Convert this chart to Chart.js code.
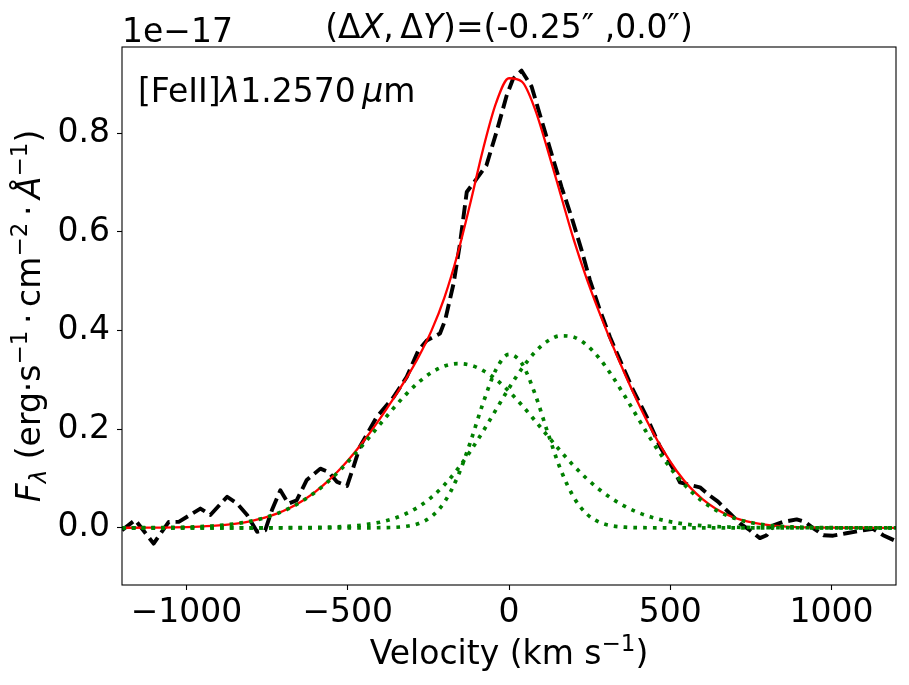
<!DOCTYPE html>
<html lang="en">
<head>
<meta charset="UTF-8">
<title>[FeII] 1.2570 um line profile</title>
<script src="https://cdn.jsdelivr.net/npm/chart.js@4/dist/chart.umd.min.js"></script>
<style>
  html, body { margin: 0; padding: 0; background: #fff; }
  #wrap { width: 909px; height: 685px; }
</style>
</head>
<body>
<div id="wrap"><canvas id="myChart" width="909" height="685"></canvas></div>
<script>
// observed spectrum (dashed black), flux in units of 1e-17
const dataVel = [-1200, -1159, -1102, -1055, -1024, -957, -926, -874, -843, -812,
  -781, -756, -735, -709, -684, -658, -627, -585, -559, -533,
  -502, -482, -462, -410, -358, -317, -281, -255, -214, -198,
  -172, -152, -131, -100, -70, -39, -7, 13, 39, 70,
  107, 138, 163, 194, 225, 251, 282, 313, 344, 385,
  427, 468, 509, 530, 560, 592, 623, 648, 685, 716,
  747, 778, 799, 820, 850, 892, 918, 944, 975, 1005,
  1046, 1098, 1129, 1160, 1200];
const dataFlux = [-0.005, 0.016, -0.032, 0.012, 0.012, 0.039, 0.026, 0.063, 0.049, 0.026,
  -0.008, -0.005, 0.036, 0.076, 0.049, 0.056, 0.097, 0.120, 0.113, 0.093,
  0.085, 0.124, 0.165, 0.225, 0.265, 0.306, 0.360, 0.380, 0.394, 0.421,
  0.495, 0.576, 0.681, 0.708, 0.735, 0.802, 0.877, 0.911, 0.927, 0.895,
  0.813, 0.745, 0.691, 0.630, 0.563, 0.502, 0.441, 0.387, 0.340, 0.279,
  0.225, 0.165, 0.120, 0.092, 0.087, 0.082, 0.065, 0.053, 0.029, 0.009,
  -0.005, -0.021, -0.015, 0.005, 0.012, 0.017, 0.012, -0.001, -0.015, -0.016,
  -0.011, -0.005, -0.002, -0.015, -0.027];

// fit: velocity grid for the model curves
const modelVel = [-1200, -1160, -1120, -1080, -1040, -1000, -960, -920, -880, -840,
  -800, -760, -720, -680, -640, -600, -560, -520, -480, -440,
  -400, -360, -320, -280, -240, -200, -160, -120, -80, -40,
  0, 40, 80, 120, 160, 200, 240, 280, 320, 360,
  400, 440, 480, 520, 560, 600, 640, 680, 720, 760,
  800, 840, 880, 920, 960, 1000, 1040, 1080, 1120, 1160, 1200];
// total fit (red)
const fitTotal = [0.0001, 0.0001, 0.0003, 0.0005, 0.0008, 0.0014, 0.0023, 0.0037, 0.0059, 0.0090,
  0.0136, 0.0200, 0.0287, 0.0402, 0.0549, 0.0732, 0.0955, 0.1217, 0.1517, 0.1851,
  0.2213, 0.2602, 0.3014, 0.3469, 0.4003, 0.4675, 0.5538, 0.6583, 0.7688, 0.8617,
  0.9116, 0.9046, 0.8500, 0.7660, 0.6760, 0.5860, 0.5070, 0.4370, 0.3720, 0.3110,
  0.2538, 0.2014, 0.1548, 0.1152, 0.0830, 0.0580, 0.0391, 0.0255, 0.0160, 0.0098,
  0.0058, 0.0033, 0.0018, 0.0010, 0.0005, 0.0002, 0.0001, 0.0001, 0, 0, 0];
// blue-shifted broad component (green dotted)
const comp1 = [0.0001, 0.0001, 0.0003, 0.0005, 0.0008, 0.0014, 0.0023, 0.0037, 0.0059, 0.0090,
  0.0136, 0.0200, 0.0286, 0.0400, 0.0546, 0.0726, 0.0943, 0.1195, 0.1478, 0.1783,
  0.2098, 0.2411, 0.2701, 0.2953, 0.3150, 0.3279, 0.3330, 0.3299, 0.3189, 0.3008,
  0.2768, 0.2486, 0.2178, 0.1862, 0.1553, 0.1263, 0.1003, 0.0777, 0.0587, 0.0433,
  0.0312, 0.0219, 0.0150, 0.0100, 0.0065, 0.0042, 0.0026, 0.0016, 0.0009, 0.0005,
  0.0003, 0.0002, 0.0001, 0.0001, 0, 0, 0, 0, 0, 0, 0];
// narrow central component
const comp2 = [0, 0, 0, 0, 0, 0, 0, 0, 0, 0,
  0, 0, 0, 0, 0, 0, 0, 0, 0, 0,
  0.0002, 0.0008, 0.0029, 0.0088, 0.0231, 0.0523, 0.1024, 0.1733, 0.2537, 0.3211,
  0.3516, 0.3330, 0.2727, 0.1932, 0.1184, 0.0628, 0.0288, 0.0114, 0.0039, 0.0012,
  0.0003, 0.0001, 0, 0, 0, 0, 0, 0, 0, 0,
  0, 0, 0, 0, 0, 0, 0, 0, 0, 0, 0];
// red-shifted component
const comp3 = [0, 0, 0, 0, 0, 0, 0, 0, 0, 0,
  0, 0, 0.0001, 0.0002, 0.0003, 0.0006, 0.0012, 0.0022, 0.0039, 0.0068,
  0.0113, 0.0183, 0.0284, 0.0428, 0.0622, 0.0873, 0.1184, 0.1551, 0.1962, 0.2398,
  0.2832, 0.3230, 0.3559, 0.3788, 0.3894, 0.3867, 0.3710, 0.3438, 0.3077, 0.2661,
  0.2223, 0.1794, 0.1398, 0.1052, 0.0765, 0.0538, 0.0365, 0.0239, 0.0151, 0.0093,
  0.0055, 0.0031, 0.0017, 0.0009, 0.0005, 0.0002, 0.0001, 0.0001, 0, 0, 0];

const xTicks = [-1000, -500, 0, 500, 1000];
const yTicks = [0.0, 0.2, 0.4, 0.6, 0.8];

const FONT = "'DejaVu Sans'";
const FS = 33;
const MINUS = '\u2212';

function toXY(xs, ys) {
  return xs.map((x, i) => ({ x: x, y: ys[i] }));
}

// draw a row of text pieces: [text, italic, scale, dy]
function drawRuns(ctx, runs, x, y, align) {
  let total = 0;
  runs.forEach(r => {
    ctx.font = (r[1] ? 'italic ' : '') + Math.round(FS * (r[2] || 1)) + 'px ' + FONT;
    r.w = ctx.measureText(r[0]).width;
    total += r.w;
  });
  let cx = align === 'center' ? x - total / 2 : x;
  runs.forEach(r => {
    ctx.font = (r[1] ? 'italic ' : '') + Math.round(FS * (r[2] || 1)) + 'px ' + FONT;
    ctx.fillText(r[0], cx, y + (r[3] || 0));
    cx += r.w;
  });
}

const decor = {
  id: 'decor',
  afterDatasetsDraw(chart) {
    const ctx = chart.ctx;
    const a = chart.chartArea;
    ctx.save();
    ctx.strokeStyle = '#000';
    ctx.lineWidth = 1.1;
    ctx.strokeRect(a.left, a.top, a.right - a.left, a.bottom - a.top);
    ctx.restore();
  },
  afterDraw(chart) {
    const ctx = chart.ctx;
    const a = chart.chartArea;
    const mid = (a.left + a.right) / 2;
    ctx.save();
    ctx.fillStyle = '#000';
    ctx.textBaseline = 'alphabetic';
    ctx.textAlign = 'left';

    const sup = -13, sub = 6;
    // title
    drawRuns(ctx, [['(\u0394', 0], ['X', 1], [',\u2009\u0394', 0], ['Y', 1],
      [')=(-0.25\u2033 ,0.0\u2033)', 0]], mid, 38, 'center');
    // offset text
    drawRuns(ctx, [['1e' + MINUS + '17', 0]], a.left, 42, 'left');
    // line label
    drawRuns(ctx, [['[FeII]', 0], ['\u03bb', 1], ['1.2570\u2009', 0], ['\u00b5', 1], ['m', 0]],
      a.left + 16, 102, 'left');
    // x label
    drawRuns(ctx, [['Velocity (km s', 0], [MINUS + '1', 0, 0.7, sup], [')', 0]], mid, 664, 'center');
    // y label
    ctx.translate(40, (a.top + a.bottom) / 2);
    ctx.rotate(-Math.PI / 2);
    drawRuns(ctx, [['F', 1], ['\u03bb', 1, 0.7, sub], [' (erg\u00b7s', 0], [MINUS + '1', 0, 0.7, sup],
      ['\u2009\u00b7\u2009cm', 0], [MINUS + '2', 0, 0.7, sup], ['\u2009\u00b7\u2009', 0], ['\u00c5', 1],
      [MINUS + '1', 0, 0.7, sup], [')', 0]], 0, 0, 'center');
    ctx.restore();
  }
};

function fmtX(v) {
  return v < 0 ? MINUS + Math.abs(v) : String(v);
}
function fmtY(v) {
  return v < 0 ? MINUS + Math.abs(v).toFixed(1) : v.toFixed(1);
}

const green = '#008000';
const ctx = document.getElementById('myChart').getContext('2d');
const myChart = new Chart(ctx, {
  type: 'line',
  data: {
    datasets: [
      { label: 'comp1', data: toXY(modelVel, comp1), borderColor: green, borderWidth: 3.7,
        borderDash: [3.7, 6.1], cubicInterpolationMode: 'monotone' },
      { label: 'comp2', data: toXY(modelVel, comp2), borderColor: green, borderWidth: 3.7,
        borderDash: [3.7, 6.1], cubicInterpolationMode: 'monotone' },
      { label: 'comp3', data: toXY(modelVel, comp3), borderColor: green, borderWidth: 3.7,
        borderDash: [3.7, 6.1], cubicInterpolationMode: 'monotone' },
      { label: 'fit', data: toXY(modelVel, fitTotal), borderColor: '#ff0000', borderWidth: 2.3,
        cubicInterpolationMode: 'monotone' },
      { label: 'data', data: toXY(dataVel, dataFlux), borderColor: '#000000', borderWidth: 3.9,
        borderDash: [14, 6], tension: 0 }
    ]
  },
  options: {
    responsive: false,
    animation: false,
    devicePixelRatio: 1,
    layout: { padding: { top: 47, right: 13, left: 0, bottom: 0 } },
    elements: {
      point: { radius: 0, hoverRadius: 0 },
      line: { borderJoinStyle: 'round', borderCapStyle: 'butt', fill: false }
    },
    plugins: { legend: { display: false }, tooltip: { enabled: false }, title: { display: false } },
    scales: {
      x: {
        type: 'linear', min: -1200, max: 1200,
        afterBuildTicks: s => { s.ticks = xTicks.map(v => ({ value: v })); },
        afterFit: s => { s.height = 100; },
        ticks: { color: '#000', font: { family: FONT, size: FS }, padding: 4,
          maxRotation: 0, autoSkip: false, callback: v => fmtX(v) },
        grid: { drawOnChartArea: false, drawTicks: true, tickLength: 5, tickColor: '#000', tickWidth: 1.1 },
        border: { display: false }
      },
      y: {
        type: 'linear', min: -0.116, max: 0.975,
        afterBuildTicks: s => { s.ticks = yTicks.map(v => ({ value: v })); },
        afterFit: s => { s.width = 122; },
        ticks: { color: '#000', font: { family: FONT, size: FS }, padding: 7,
          autoSkip: false, callback: v => fmtY(v) },
        grid: { drawOnChartArea: false, drawTicks: true, tickLength: 5, tickColor: '#000', tickWidth: 1.1 },
        border: { display: false }
      }
    }
  },
  plugins: [decor]
});
</script>
</body>
</html>
